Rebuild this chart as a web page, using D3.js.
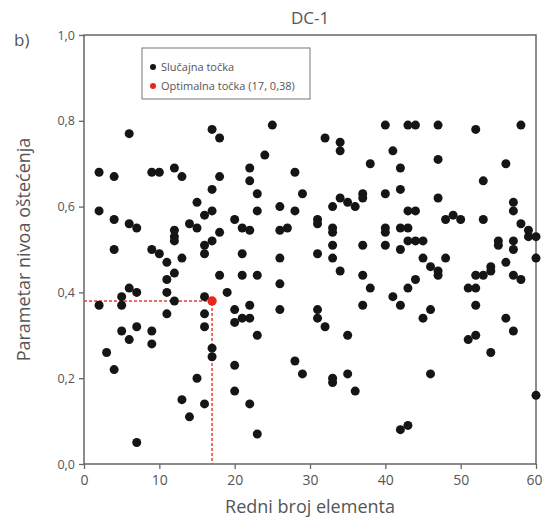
<!DOCTYPE html>
<html lang="sr">
<head>
<meta charset="utf-8" />
<title>DC-1</title>
<script src="https://d3js.org/d3.v7.min.js"></script>
<style>
  html, body { margin:0; padding:0; background:#fff; }
  svg { display:block; }
  text { font-family: "Open Sans", "Noto Sans", sans-serif; fill:#555; }
</style>
</head>
<body>
<svg id="svg" width="543" height="520"></svg>
<script>

// random points: element index and damage-level parameter
let randX = [
  6,17,18,2,4,9,10,12,13,18,17,15,17,16,2,4,6,7,14,15,20,
  25,40,32,34,34,24,38,22,22,28,23,29,40,34,35,36,37,37,23,26,28,33,21,22,27,26,31,31,33,40,
  43,44,47,52,58,41,47,56,42,53,42,47,57,57,43,44,48,49,50,53,58,59,42,43,40,
  12,12,12,18,17,16,16,4,9,10,11,13,12,11,18,6,7,11,19,5,16,12,2,5,11,16,20,16,5,7,9,6,9,17,17,
  33,33,37,40,21,26,31,33,34,37,21,23,26,38,22,37,26,31,31,21,22,20,32,23,35,
  43,44,45,42,59,60,55,55,57,57,48,45,46,47,47,56,60,54,54,52,53,57,58,44,43,51,52,41,42,52,46,45,56,57,51,52,
  3,4,20,15,20,13,16,14,7,22,23,28,29,33,33,35,36,54,46,42,43,60
];
let randY = [
  0.77,0.78,0.76,0.68,0.67,0.68,0.68,0.69,0.67,0.67,0.64,0.61,0.59,0.58,0.59,0.57,0.56,0.55,0.56,0.55,0.57,
  0.79,0.79,0.76,0.75,0.73,0.72,0.70,0.69,0.66,0.68,0.63,0.63,0.63,0.62,0.61,0.60,0.63,0.62,0.59,0.60,0.59,0.60,0.55,0.545,0.55,0.545,0.57,0.56,0.55,0.55,
  0.79,0.79,0.79,0.78,0.79,0.73,0.71,0.70,0.69,0.66,0.64,0.62,0.61,0.59,0.59,0.59,0.57,0.58,0.57,0.57,0.56,0.545,0.55,0.55,0.54,
  0.545,0.53,0.52,0.54,0.52,0.51,0.49,0.50,0.50,0.49,0.47,0.48,0.445,0.43,0.44,0.41,0.40,0.40,0.40,0.39,0.39,0.38,0.37,0.37,0.35,0.35,0.36,0.32,0.31,0.32,0.31,0.29,0.28,0.27,0.25,
  0.54,0.51,0.51,0.51,0.49,0.48,0.49,0.48,0.45,0.44,0.44,0.44,0.42,0.41,0.37,0.37,0.36,0.36,0.34,0.34,0.34,0.33,0.32,0.30,0.30,
  0.52,0.52,0.52,0.50,0.53,0.53,0.52,0.51,0.52,0.50,0.48,0.48,0.46,0.45,0.44,0.47,0.48,0.46,0.45,0.44,0.44,0.44,0.43,0.43,0.41,0.41,0.41,0.39,0.37,0.37,0.36,0.34,0.34,0.31,0.29,0.30,
  0.26,0.22,0.23,0.20,0.17,0.15,0.14,0.11,0.05,0.14,0.07,0.24,0.21,0.20,0.19,0.21,0.17,0.26,0.21,0.08,0.09,0.16
];

let optX = 17, optY = 0.38;

let xTicks = [0, 10, 20, 30, 40, 50, 60];
let yTicks = [0, 0.2, 0.4, 0.6, 0.8, 1.0];

let legendLabels = ["Slučajna točka", "Optimalna točka (17, 0,38)"];

let margin = {left: 84, right: 7, top: 35, bottom: 56};
let width = 543, height = 520;

let svg = d3.select("#svg");

let x = d3.scaleLinear().domain([0, 60]).range([margin.left, width - margin.right]);
let y = d3.scaleLinear().domain([0, 1]).range([height - margin.bottom, margin.top]);

let fmt = d => d3.format(".1f")(d).replace(".", ",");

// frame
svg.append("rect")
    .attr("x", x(0)).attr("y", y(1))
    .attr("width", x(60) - x(0)).attr("height", y(0) - y(1))
    .attr("fill", "none").attr("stroke", "#666").attr("stroke-width", 1.5);

let xAxis = svg.append("g")
    .attr("transform", "translate(0," + y(0) + ")")
    .call(d3.axisBottom(x).tickValues(xTicks).tickSize(5).tickPadding(6).tickFormat(d3.format("d")));
let yAxis = svg.append("g")
    .attr("transform", "translate(" + x(0) + ",0)")
    .call(d3.axisLeft(y).tickValues(yTicks).tickSize(5).tickPadding(4).tickFormat(fmt));

[xAxis, yAxis].forEach(a => {
    a.select(".domain").remove();
    a.selectAll("line").attr("stroke", "#666").attr("stroke-width", 1.3);
    a.selectAll("text").style("font-family", "'Open Sans', sans-serif").attr("fill", "#555");
});
xAxis.selectAll("text").style("font-size", "14px");
yAxis.selectAll("text").style("font-size", "12.5px");
// last label pulled in so it stays on the page
xAxis.selectAll("text").filter(d => d == 60)
    .attr("text-anchor", "end").attr("dx", "6");

// dashed guide to optimum
svg.append("path")
    .attr("d", d3.line()([[x(0), y(optY)], [x(optX), y(optY)], [x(optX), y(0)]]))
    .attr("fill", "none")
    .attr("stroke", "#e8402f")
    .attr("stroke-width", 1.5)
    .attr("stroke-dasharray", "3,2");

// random points
svg.append("g").selectAll("circle")
    .data(d3.range(randX.length))
    .join("circle")
    .attr("cx", i => x(randX[i]))
    .attr("cy", i => y(randY[i]))
    .attr("r", 4.5)
    .attr("fill", "#151515");

svg.append("circle")
    .attr("cx", x(optX)).attr("cy", y(optY))
    .attr("r", 4.7).attr("fill", "#e8261e");

// legend
let lg = svg.append("g");
lg.append("rect")
    .attr("x", 142).attr("y", 48).attr("width", 168).attr("height", 51)
    .attr("fill", "#fff").attr("stroke", "#777").attr("stroke-width", 1);
legendLabels.forEach((t, i) => {
    lg.append("circle")
        .attr("cx", 153).attr("cy", 67 + i * 19)
        .attr("r", 3).attr("fill", i == 0 ? "#151515" : "#e8261e");
    lg.append("text")
        .attr("x", 161).attr("y", 71 + i * 19)
        .style("font-size", "11px")
        .attr("fill", "#333")
        .text(t);
});

// titles
svg.append("text")
    .attr("x", (x(0) + x(60)) / 2).attr("y", 24)
    .attr("text-anchor", "middle")
    .style("font-size", "17px")
    .text("DC-1");

svg.append("text")
    .attr("x", 14).attr("y", 46)
    .style("font-size", "17px")
    .attr("fill", "#444")
    .text("b)");

svg.append("text")
    .attr("x", (x(0) + x(60)) / 2).attr("y", 513)
    .attr("text-anchor", "middle")
    .style("font-size", "18px")
    .text("Redni broj elementa");

svg.append("text")
    .attr("transform", "translate(30," + ((y(0) + y(1)) / 2) + ") rotate(-90)")
    .attr("text-anchor", "middle")
    .style("font-size", "18px")
    .text("Parametar nivoa oštećenja");

</script>
</body>
</html>
